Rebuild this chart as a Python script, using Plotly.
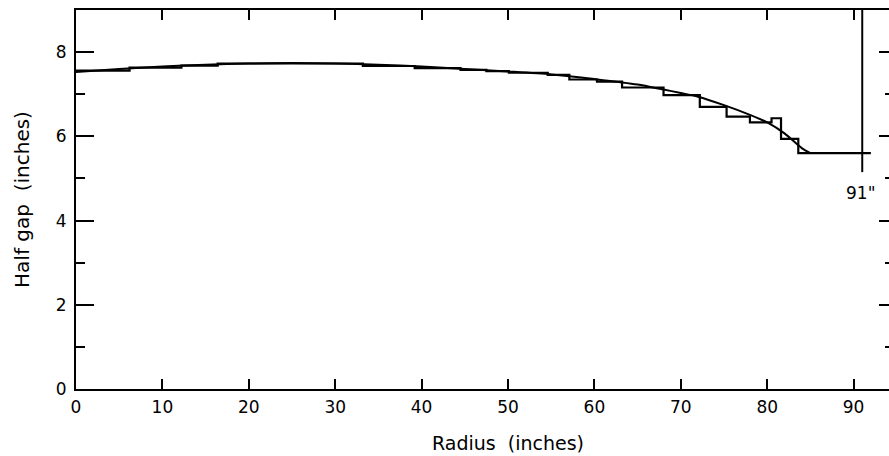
import plotly.graph_objects as go

# Smooth (computed) pole-face profile
curve_x = [0, 5, 10, 15, 20, 25, 30, 35, 40, 45, 50, 55, 60, 65, 68, 70, 72, 75, 78, 80, 82, 84, 85]
curve_y = [7.53, 7.60, 7.66, 7.70, 7.73, 7.74, 7.73, 7.70, 7.66, 7.60, 7.54, 7.47, 7.36, 7.23, 7.11,
           7.03, 6.94, 6.74, 6.51, 6.33, 6.07, 5.72, 5.60]

# Stepped (shimmed) profile: step edges and levels
step_edges = [0, 6.2, 12.2, 16.4, 33.2, 39.2, 44.5, 47.5, 50.1, 54.6, 57.1, 60.3, 63.2, 68.0,
              72.2, 75.3, 78.0, 80.5, 81.6, 83.6, 92.0]
step_levels = [7.56, 7.63, 7.68, 7.73, 7.67, 7.62, 7.58, 7.55, 7.51, 7.46, 7.35, 7.30, 7.16,
               6.98, 6.70, 6.47, 6.33, 6.43, 5.94, 5.60]

# Pole edge marker
edge_x = [91, 91]
edge_y = [5.15, 9]
edge_label = '91"'

x_ticks = [0, 10, 20, 30, 40, 50, 60, 70, 80, 90]
y_ticks = [0, 2, 4, 6, 8]

step_x = []
step_y = []
for i, lv in enumerate(step_levels):
    step_x += [step_edges[i], step_edges[i + 1]]
    step_y += [lv, lv]

FONT = "DejaVu Sans"
fig = go.Figure()
fig.add_trace(go.Scatter(x=curve_x, y=curve_y, mode="lines", line=dict(color="black", width=2, shape="spline", smoothing=0.8)))
fig.add_trace(go.Scatter(x=step_x, y=step_y, mode="lines", line=dict(color="black", width=2.2)))
fig.add_trace(go.Scatter(x=edge_x, y=edge_y, mode="lines", line=dict(color="black", width=2)))
fig.add_trace(go.Scatter(x=curve_x, y=curve_y, mode="lines", line=dict(color="rgba(0,0,0,0)", width=0),
                         yaxis="y2", hoverinfo="skip"))

fig.add_annotation(x=90.8, y=4.65, text=edge_label, showarrow=False,
                   font=dict(family=FONT, size=17, color="black"))
fig.add_annotation(x=(508 - 76) / 813, y=-(443 - 389) / 379, xref="paper", yref="paper",
                   text="Radius  (inches)", showarrow=False, yanchor="middle",
                   font=dict(family=FONT, size=19, color="black"))

fig.update_layout(
    width=889, height=456,
    margin=dict(l=76, r=0, t=10, b=67),
    paper_bgcolor="white", plot_bgcolor="white",
    showlegend=False,
    font=dict(family=FONT, size=17, color="black"),
    xaxis=dict(range=[0, 813 / 8.64], tickvals=x_ticks, ticks="inside", ticklen=10, tickwidth=2,
               tickcolor="black", showline=True, linewidth=2, linecolor="black", mirror="ticks",
               showgrid=False, zeroline=False, tickfont=dict(size=17), ticklabelstandoff=2),
    yaxis=dict(range=[0, 9], tickvals=y_ticks, ticks="inside", ticklen=18, tickwidth=2,
               tickcolor="black", showline=True, linewidth=2, linecolor="black",
               minor=dict(tickvals=[1, 3, 5, 7], ticks="inside", ticklen=9, tickwidth=2, tickcolor="black"),
               showgrid=False, zeroline=False, tickfont=dict(size=17), ticklabelstandoff=4,
               title=dict(text="Half gap  (inches)", font=dict(size=20), standoff=21)),
    yaxis2=dict(range=[0, 9], overlaying="y", side="right", anchor="x", tickvals=y_ticks,
                ticks="inside", ticklen=10, tickwidth=2, tickcolor="black", showticklabels=False,
                minor=dict(tickvals=[1, 3, 5, 7], ticks="inside", ticklen=4, tickwidth=2, tickcolor="black"),
                showline=False, showgrid=False, zeroline=False),
)
fig.write_html("out.html")
